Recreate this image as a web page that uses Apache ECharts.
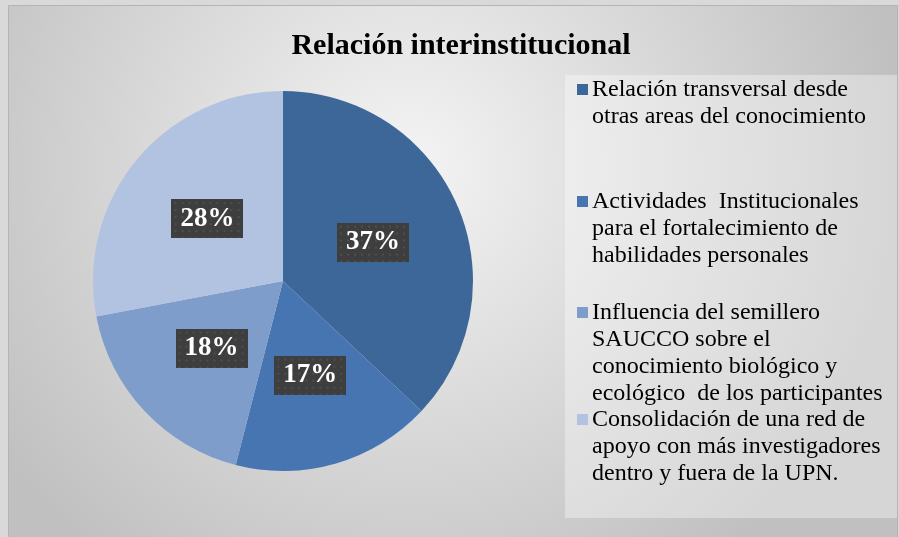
<!DOCTYPE html>
<html>
<head>
<meta charset="utf-8">
<script src="https://cdn.jsdelivr.net/npm/echarts@6/dist/echarts.min.js"></script>
<style>
  html, body { margin: 0; padding: 0; background: #d9d9d9; }
  #chart { width: 899px; height: 537px; }
</style>
</head>
<body>
<div id="chart"></div>
<script>
// Categories (full names) and the line breaks used in the legend
const categories = [
  'Relación transversal desde otras areas del conocimiento',
  'Actividades  Institucionales para el fortalecimiento de habilidades personales',
  'Influencia del semillero SAUCCO sobre el conocimiento biológico y ecológico  de los participantes',
  'Consolidación de una red de apoyo con más investigadores dentro y fuera de la UPN.'
];
const legendLines = [
  ['Relación transversal desde', 'otras areas del conocimiento'],
  ['Actividades  Institucionales', 'para el fortalecimiento de', 'habilidades personales'],
  ['Influencia del semillero', 'SAUCCO sobre el', 'conocimiento biológico y', 'ecológico  de los participantes'],
  ['Consolidación de una red de', 'apoyo con más investigadores', 'dentro y fuera de la UPN.']
];
// Percentages per category
const values = [37, 17, 18, 28];
const colors = ['#3e6799', '#4675b1', '#7f9dca', '#b1c3e0'];

const serif = '"Liberation Serif", "Times New Roman", serif';

// Dark dotted texture for the value labels
function makeDots(w, h) {
  const c = document.createElement('canvas');
  c.width = w; c.height = h;
  const g = c.getContext('2d');
  g.fillStyle = '#3e3e3e';
  g.fillRect(0, 0, w, h);
  g.fillStyle = '#4f4f4f';
  for (let y = 3; y < h; y += 7) {
    for (let x = 3; x < w; x += 7) {
      g.fillRect(x, y, 2, 2);
    }
  }
  return c;
}
const dots = makeDots(72, 39);

const chart = echarts.init(document.getElementById('chart'), null, { renderer: 'canvas' });

const legendTops = [76, 188, 299, 406];
const legends = categories.map((name, i) => {
  const rich = {
    m: { width: 11, height: 11, backgroundColor: colors[i] },
    s: { width: 11, height: 11 },
    t: { fontFamily: serif, fontSize: 24, lineHeight: 27, color: '#000', padding: [0, 0, 0, 4] }
  };
  return {
    show: true,
    data: [name],
    left: 572,
    top: legendTops[i],
    orient: 'vertical',
    icon: 'none',
    itemWidth: 0,
    itemHeight: 10,
    itemGap: 0,
    padding: 0,
    selectedMode: false,
    formatter: () => legendLines[i].map((ln, k) => (k === 0 ? '{m|}' : '{s|}') + '{t|' + ln + '}').join('\n'),
    textStyle: { rich: rich, lineHeight: 27, padding: 0 }
  };
});

chart.setOption({
  animation: false,
  color: colors,
  title: {
    text: 'Relación interinstitucional',
    left: 456,
    textAlign: 'center',
    top: 26,
    textStyle: { fontFamily: serif, fontSize: 30, fontWeight: 'bold', color: '#000' }
  },
  graphic: [
    {
      type: 'rect',
      z: -10,
      silent: true,
      shape: { x: 8.5, y: 5.5, width: 889, height: 540 },
      style: {
        fill: {
          type: 'radial', x: 0.45, y: 0.3, r: 0.92,
          colorStops: [
            { offset: 0, color: '#f4f4f4' },
            { offset: 1, color: '#c0c0c0' }
          ]
        },
        stroke: '#b4b4b4',
        lineWidth: 1
      }
    },
    {
      type: 'rect',
      z: -9,
      silent: true,
      shape: { x: 565, y: 75, width: 332, height: 443 },
      style: { fill: 'rgba(255,255,255,0.35)' }
    }
  ],
  legend: legends,
  series: [{
    type: 'pie',
    center: [283, 281],
    radius: 190,
    startAngle: 90,
    clockwise: true,
    silent: true,
    data: categories.map((name, i) => ({ name: name, value: values[i] })),
    itemStyle: { borderWidth: 0 },
    label: {
      show: true,
      position: 'inside',
      formatter: p => p.value + '%',
      fontFamily: serif,
      fontSize: 27,
      fontWeight: 'bold',
      color: '#fff',
      lineHeight: 30,
      padding: [5, 9, 4, 9],
      backgroundColor: { image: dots },
      shadowColor: 'rgba(0,0,0,0.45)',
      shadowBlur: 5,
      shadowOffsetX: 3,
      shadowOffsetY: 4
    },
    labelLine: { show: false }
  }]
});
</script>
</body>
</html>
